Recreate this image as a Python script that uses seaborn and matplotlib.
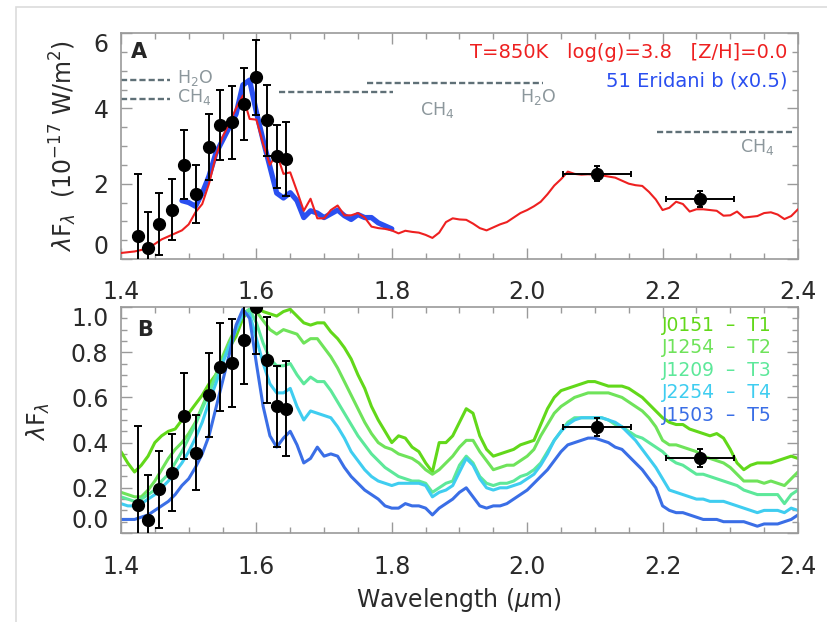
import numpy as np
import pandas as pd
import matplotlib
matplotlib.use("Agg")
import matplotlib.pyplot as plt
import seaborn as sns
from matplotlib.ticker import MultipleLocator
from matplotlib.patches import Rectangle

# wavelength grid (micron) used for the model / template spectra
wave = np.round(np.arange(1.40, 2.4001, 0.01), 2)

# panel A: T=850K model spectrum
model_850k = [
    0.16, 0.18, 0.20, 0.24, 0.29, 0.40, 0.52, 0.60, 0.68, 0.76,
    0.92, 1.24, 1.46, 2.00, 2.72, 3.24, 3.60, 4.00, 4.34, 3.72,
    3.70, 3.05, 2.50, 2.80, 2.26, 2.30, 1.80, 1.28, 1.60, 1.08,
    1.08, 1.30, 1.42, 1.16, 1.16, 1.22, 1.10, 0.86, 0.82, 0.80,
    0.76, 0.68, 0.75, 0.72, 0.70, 0.64, 0.56, 0.70, 0.98, 1.08,
    1.05, 1.04, 0.94, 0.82, 0.76, 0.84, 0.92, 0.98, 1.10, 1.22,
    1.30, 1.40, 1.52, 1.72, 1.95, 2.12, 2.32, 2.26, 2.24, 2.25,
    2.24, 2.22, 2.19, 2.16, 2.08, 2.00, 1.96, 1.94, 1.78, 1.58,
    1.30, 1.36, 1.52, 1.46, 1.26, 1.32, 1.32, 1.30, 1.28, 1.15,
    1.16, 1.26, 1.10, 1.12, 1.14, 1.22, 1.24, 1.18, 1.06, 1.14,
    1.32,
]

# panel A: 51 Eridani b (x0.5)
eri_wave = np.round(np.arange(1.49, 1.8001, 0.01), 2)
eri_flux = [
    1.55, 1.50, 1.40, 1.75, 2.20, 2.80, 3.15, 3.50, 3.85, 4.62,
    4.75, 3.90, 3.15, 2.45, 1.75, 1.62, 1.76, 1.55, 1.10, 1.28,
    1.22, 1.10, 1.20, 1.30, 1.15, 1.05, 1.18, 1.10, 1.10, 0.96,
    0.88, 0.80,
]

# GPI H-band points
gpi_wave = [1.4246, 1.4404, 1.4566, 1.4758, 1.4935, 1.5113, 1.5295,
            1.5467, 1.5635, 1.5822, 1.5989, 1.6156, 1.6300, 1.6432]
gpi_flux_a = [0.60, 0.29, 0.93, 1.31, 2.50, 1.73, 2.97,
              3.57, 3.63, 4.12, 4.82, 3.68, 2.73, 2.65]
gpi_err_a = [1.66, 0.96, 0.82, 0.81, 0.92, 0.77, 0.88,
             0.93, 0.97, 0.95, 1.00, 0.95, 0.84, 0.99]
gpi_flux_b = [0.122, 0.056, 0.193, 0.267, 0.516, 0.355, 0.612,
              0.735, 0.752, 0.855, 1.000, 0.764, 0.560, 0.550]
gpi_err_b = [0.35, 0.20, 0.17, 0.17, 0.19, 0.165, 0.186,
             0.195, 0.196, 0.195, 0.21, 0.19, 0.18, 0.21]

# K1 / K2 photometry
phot_wave = [2.103, 2.255]
phot_xerr = [0.05, 0.05]
phot_flux_a = [2.27, 1.59]
phot_err_a = [0.21, 0.21]
phot_flux_b = [0.47, 0.33]
phot_err_b = [0.04, 0.04]

# panel B: T dwarf templates
t1_flux = [
    0.36, 0.31, 0.27, 0.30, 0.34, 0.40, 0.43, 0.45, 0.46, 0.50,
    0.53, 0.57, 0.61, 0.66, 0.70, 0.76, 0.82, 0.87, 0.95, 0.99,
    1.00, 0.98, 0.97, 0.96, 0.98, 0.99, 0.96, 0.93, 0.92, 0.93,
    0.93, 0.89, 0.86, 0.82, 0.77, 0.70, 0.64, 0.56, 0.50, 0.45,
    0.40, 0.43, 0.42, 0.38, 0.36, 0.31, 0.27, 0.40, 0.40, 0.43,
    0.49, 0.55, 0.53, 0.43, 0.37, 0.34, 0.35, 0.36, 0.37, 0.39,
    0.40, 0.41, 0.48, 0.55, 0.60, 0.63, 0.64, 0.65, 0.66, 0.67,
    0.67, 0.66, 0.65, 0.65, 0.65, 0.64, 0.62, 0.60, 0.57, 0.54,
    0.51, 0.49, 0.48, 0.48, 0.46, 0.45, 0.44, 0.43, 0.44, 0.42,
    0.37, 0.31, 0.28, 0.30, 0.31, 0.31, 0.31, 0.32, 0.33, 0.34,
    0.33,
]
t2_flux = [
    0.18, 0.17, 0.16, 0.16, 0.19, 0.23, 0.28, 0.33, 0.37, 0.40,
    0.44, 0.49, 0.56, 0.63, 0.70, 0.78, 0.85, 0.91, 0.97, 0.99,
    0.98, 0.94, 0.90, 0.88, 0.90, 0.89, 0.88, 0.84, 0.86, 0.86,
    0.82, 0.78, 0.73, 0.67, 0.61, 0.55, 0.49, 0.44, 0.40, 0.38,
    0.37, 0.35, 0.34, 0.33, 0.31, 0.28, 0.26, 0.28, 0.31, 0.34,
    0.38, 0.41, 0.41, 0.36, 0.32, 0.28, 0.29, 0.30, 0.30, 0.32,
    0.34, 0.37, 0.43, 0.48, 0.53, 0.56, 0.58, 0.60, 0.61, 0.62,
    0.62, 0.62, 0.62, 0.61, 0.60, 0.58, 0.56, 0.54, 0.51, 0.47,
    0.41, 0.39, 0.39, 0.38, 0.37, 0.36, 0.34, 0.33, 0.32, 0.31,
    0.29, 0.26, 0.23, 0.23, 0.23, 0.22, 0.23, 0.22, 0.21, 0.24,
    0.27,
]
t3_flux = [
    0.16, 0.15, 0.14, 0.15, 0.17, 0.19, 0.23, 0.26, 0.31, 0.36,
    0.42, 0.48, 0.55, 0.62, 0.69, 0.76, 0.83, 0.90, 0.97, 0.99,
    0.93, 0.84, 0.77, 0.74, 0.74, 0.75, 0.70, 0.66, 0.69, 0.67,
    0.67, 0.63, 0.58, 0.53, 0.48, 0.43, 0.39, 0.35, 0.32, 0.29,
    0.27, 0.25, 0.24, 0.23, 0.23, 0.22, 0.18, 0.20, 0.22, 0.23,
    0.30, 0.34, 0.31, 0.25, 0.22, 0.21, 0.22, 0.22, 0.23, 0.25,
    0.26, 0.28, 0.31, 0.36, 0.41, 0.45, 0.49, 0.51, 0.51, 0.51,
    0.51, 0.51, 0.50, 0.48, 0.47, 0.45, 0.43, 0.42, 0.40, 0.38,
    0.36, 0.33, 0.31, 0.30, 0.28, 0.26, 0.26, 0.25, 0.24, 0.23,
    0.22, 0.21, 0.19, 0.18, 0.17, 0.17, 0.17, 0.17, 0.13, 0.17,
    0.19,
]
t4_flux = [
    0.13, 0.12, 0.12, 0.13, 0.15, 0.17, 0.20, 0.23, 0.27, 0.31,
    0.36, 0.42, 0.49, 0.58, 0.66, 0.75, 0.83, 0.90, 0.97, 0.97,
    0.86, 0.75, 0.66, 0.62, 0.62, 0.64, 0.56, 0.50, 0.54, 0.53,
    0.52, 0.51, 0.47, 0.42, 0.36, 0.32, 0.28, 0.25, 0.23, 0.22,
    0.21, 0.22, 0.22, 0.22, 0.22, 0.21, 0.16, 0.18, 0.19, 0.21,
    0.27, 0.33, 0.30, 0.24, 0.20, 0.19, 0.20, 0.20, 0.21, 0.22,
    0.24, 0.26, 0.30, 0.35, 0.41, 0.45, 0.48, 0.50, 0.51, 0.51,
    0.51, 0.51, 0.50, 0.49, 0.47, 0.44, 0.41, 0.37, 0.33, 0.29,
    0.24, 0.19, 0.18, 0.17, 0.16, 0.15, 0.15, 0.14, 0.14, 0.14,
    0.13, 0.12, 0.11, 0.10, 0.09, 0.10, 0.10, 0.10, 0.09, 0.11,
    0.10,
]
t5_flux = [
    0.06, 0.06, 0.06, 0.07, 0.08, 0.10, 0.12, 0.14, 0.17, 0.21,
    0.24, 0.29, 0.35, 0.43, 0.55, 0.67, 0.79, 0.92, 0.99, 0.95,
    0.75, 0.56, 0.43, 0.38, 0.42, 0.45, 0.39, 0.31, 0.33, 0.38,
    0.34, 0.35, 0.34, 0.29, 0.25, 0.22, 0.19, 0.17, 0.15, 0.12,
    0.11, 0.11, 0.13, 0.12, 0.12, 0.11, 0.08, 0.11, 0.13, 0.15,
    0.18, 0.20, 0.16, 0.12, 0.11, 0.12, 0.12, 0.13, 0.15, 0.17,
    0.19, 0.22, 0.25, 0.28, 0.32, 0.36, 0.39, 0.40, 0.41, 0.42,
    0.42, 0.41, 0.40, 0.38, 0.37, 0.34, 0.31, 0.28, 0.24, 0.20,
    0.12, 0.10, 0.09, 0.09, 0.08, 0.07, 0.06, 0.06, 0.06, 0.05,
    0.05, 0.05, 0.05, 0.04, 0.03, 0.04, 0.04, 0.04, 0.05, 0.06,
    0.08,
]
template_names = ["J0151  \u2013  T1", "J1254  \u2013  T2", "J1209  \u2013  T3",
                  "J2254  \u2013  T4", "J1503  \u2013  T5"]
template_colors = ["#62d81a", "#6fe35a", "#5de89a", "#3fcdf0", "#3a6ee6"]

sns.set_style("ticks")
plt.rcParams["font.family"] = ["DejaVu Sans"]
plt.rcParams["mathtext.fontset"] = "dejavusans"

fig = plt.figure(figsize=(8.27, 6.22), dpi=100)
ax_a = fig.add_axes([0.1463, 0.5836, 0.8186, 0.3633])
ax_b = fig.add_axes([0.1463, 0.1431, 0.8186, 0.3633])

# light frame around the figure (only left/top visible in the reference)
fig.add_artist(Rectangle((16 / 827, -0.1), 1.2, 1 - 7 / 622 + 0.1,
                         transform=fig.transFigure, fill=False,
                         ec="#dcdcdc", lw=1.2))

# ---------------- panel A ----------------
df_model = pd.DataFrame({"wave": wave, "flux": model_850k})
df_eri = pd.DataFrame({"wave": eri_wave, "flux": eri_flux})
sns.lineplot(data=df_eri, x="wave", y="flux", ax=ax_a, color="#2a4ff0",
             lw=3.8, estimator=None, sort=False, zorder=2)
sns.lineplot(data=df_model, x="wave", y="flux", ax=ax_a, color="#ee2020",
             lw=1.5, estimator=None, sort=False, zorder=3)
ax_a.errorbar(gpi_wave, gpi_flux_a, yerr=gpi_err_a, fmt="o", color="black",
              ms=8.5, capsize=3, elinewidth=1.4, capthick=1.4, zorder=5)
ax_a.errorbar(phot_wave, phot_flux_a, xerr=phot_xerr, yerr=phot_err_a,
              fmt="o", color="black", ms=8.5, capsize=2, elinewidth=1.4,
              capthick=1.4, zorder=5)

# absorption bands
band_col = "#5f7077"
band_txt = "#8c979c"
dash = (0, (2.6, 1.3))
for x0, x1, yv in [(1.40, 1.472, 4.75), (1.40, 1.472, 4.25),
                   (1.633, 1.802, 4.43), (1.763, 2.023, 4.67),
                   (2.192, 2.391, 3.37)]:
    ax_a.plot([x0, x1], [yv, yv], color=band_col, ls=dash, lw=1.7, zorder=1)
for xt, yt, s in [(1.483, 4.80, "H$_2$O"), (1.483, 4.30, "CH$_4$"),
                  (1.842, 3.96, "CH$_4$"), (1.989, 4.30, "H$_2$O"),
                  (2.314, 2.97, "CH$_4$")]:
    ax_a.text(xt, yt, s, color=band_txt, fontsize=12.5, ha="left", va="center")

ax_a.text(0.985, 0.916, "T=850K   log(g)=3.8   [Z/H]=0.0", color="#ee2020",
          fontsize=14, ha="right", va="center", transform=ax_a.transAxes)
ax_a.text(0.985, 0.788, "51 Eridani b (x0.5)", color="#2a4ff0",
          fontsize=14, ha="right", va="center", transform=ax_a.transAxes)
ax_a.text(0.026, 0.915, "A", fontsize=15, fontweight="bold",
          ha="center", va="center", transform=ax_a.transAxes)

ax_a.set_ylim(0, 6)
ax_a.yaxis.set_major_locator(MultipleLocator(2))
ax_a.yaxis.set_minor_locator(MultipleLocator(0.5))

# ---------------- panel B ----------------
rows = []
for name, flux in zip(template_names, [t1_flux, t2_flux, t3_flux, t4_flux, t5_flux]):
    rows.append(pd.DataFrame({"wave": wave, "flux": flux, "object": name}))
df_t = pd.concat(rows, ignore_index=True)
sns.lineplot(data=df_t, x="wave", y="flux", hue="object", ax=ax_b,
             palette=dict(zip(template_names, template_colors)),
             lw=2.2, estimator=None, sort=False, legend=False)
ax_b.errorbar(gpi_wave, gpi_flux_b, yerr=gpi_err_b, fmt="o", color="black",
              ms=8.5, capsize=3, elinewidth=1.4, capthick=1.4, zorder=5)
ax_b.errorbar(phot_wave, phot_flux_b, xerr=phot_xerr, yerr=phot_err_b,
              fmt="o", color="black", ms=8.5, capsize=2, elinewidth=1.4,
              capthick=1.4, zorder=5)

for i, (name, col) in enumerate(zip(template_names, template_colors)):
    ax_b.text(0.799, 0.920 - i * 0.0995, name, color=col, fontsize=13.5,
              ha="left", va="center", transform=ax_b.transAxes)
ax_b.text(0.035, 0.900, "B", fontsize=15, fontweight="bold",
          ha="center", va="center", transform=ax_b.transAxes)

ax_b.set_ylim(0, 1.0)
ax_b.yaxis.set_major_locator(MultipleLocator(0.2))
ax_b.yaxis.set_minor_locator(MultipleLocator(0.05))
ax_b.yaxis.set_major_formatter(matplotlib.ticker.FormatStrFormatter("%.1f"))

# ---------------- common styling ----------------
for ax, xpad in [(ax_a, 15), (ax_b, 16)]:
    ax.set_xlim(1.4, 2.4)
    ax.xaxis.set_major_locator(MultipleLocator(0.2))
    ax.xaxis.set_minor_locator(MultipleLocator(0.05))
    ax.xaxis.set_major_formatter(matplotlib.ticker.FormatStrFormatter("%.1f"))
    ax.set_xlabel("")
    ax.set_ylabel("")
    for sp in ax.spines.values():
        sp.set_color("#9a9a9a")
        sp.set_linewidth(1.2)
    ax.tick_params(which="both", direction="in", top=True, right=True,
                   color="#9a9a9a", width=1.0)
    ax.tick_params(which="major", length=8, labelsize=17, labelcolor="#2a2a2a")
    ax.tick_params(which="minor", length=4)
    ax.tick_params(axis="x", which="major", pad=xpad)
    ax.tick_params(axis="y", which="major", pad=9)

fig.canvas.draw()
for ax in (ax_a, ax_b):
    labels = ax.get_yticklabels()
    vals = ax.get_yticks()
    lo, hi = ax.get_ylim()
    for lab, v in zip(labels, vals):
        if abs(v - lo) < 1e-9:
            lab.set_va("bottom")
        elif abs(v - hi) < 1e-9:
            lab.set_va("top")

fig.text(63 / 827, 1 - 146 / 622, "$\\lambda$F$_\\lambda$  (10$^{-17}$ W/m$^2$)",
         rotation=90, ha="center", va="center", fontsize=17, color="#2a2a2a")
fig.text(38 / 827, 1 - 422 / 622, "$\\lambda$F$_\\lambda$",
         rotation=90, ha="center", va="center", fontsize=17, color="#2a2a2a")
fig.text(459 / 827, 1 - 600 / 622, "Wavelength ($\\mu$m)",
         ha="center", va="center", fontsize=17, color="#2a2a2a")

fig.savefig("out.png", dpi=100, facecolor="white")
